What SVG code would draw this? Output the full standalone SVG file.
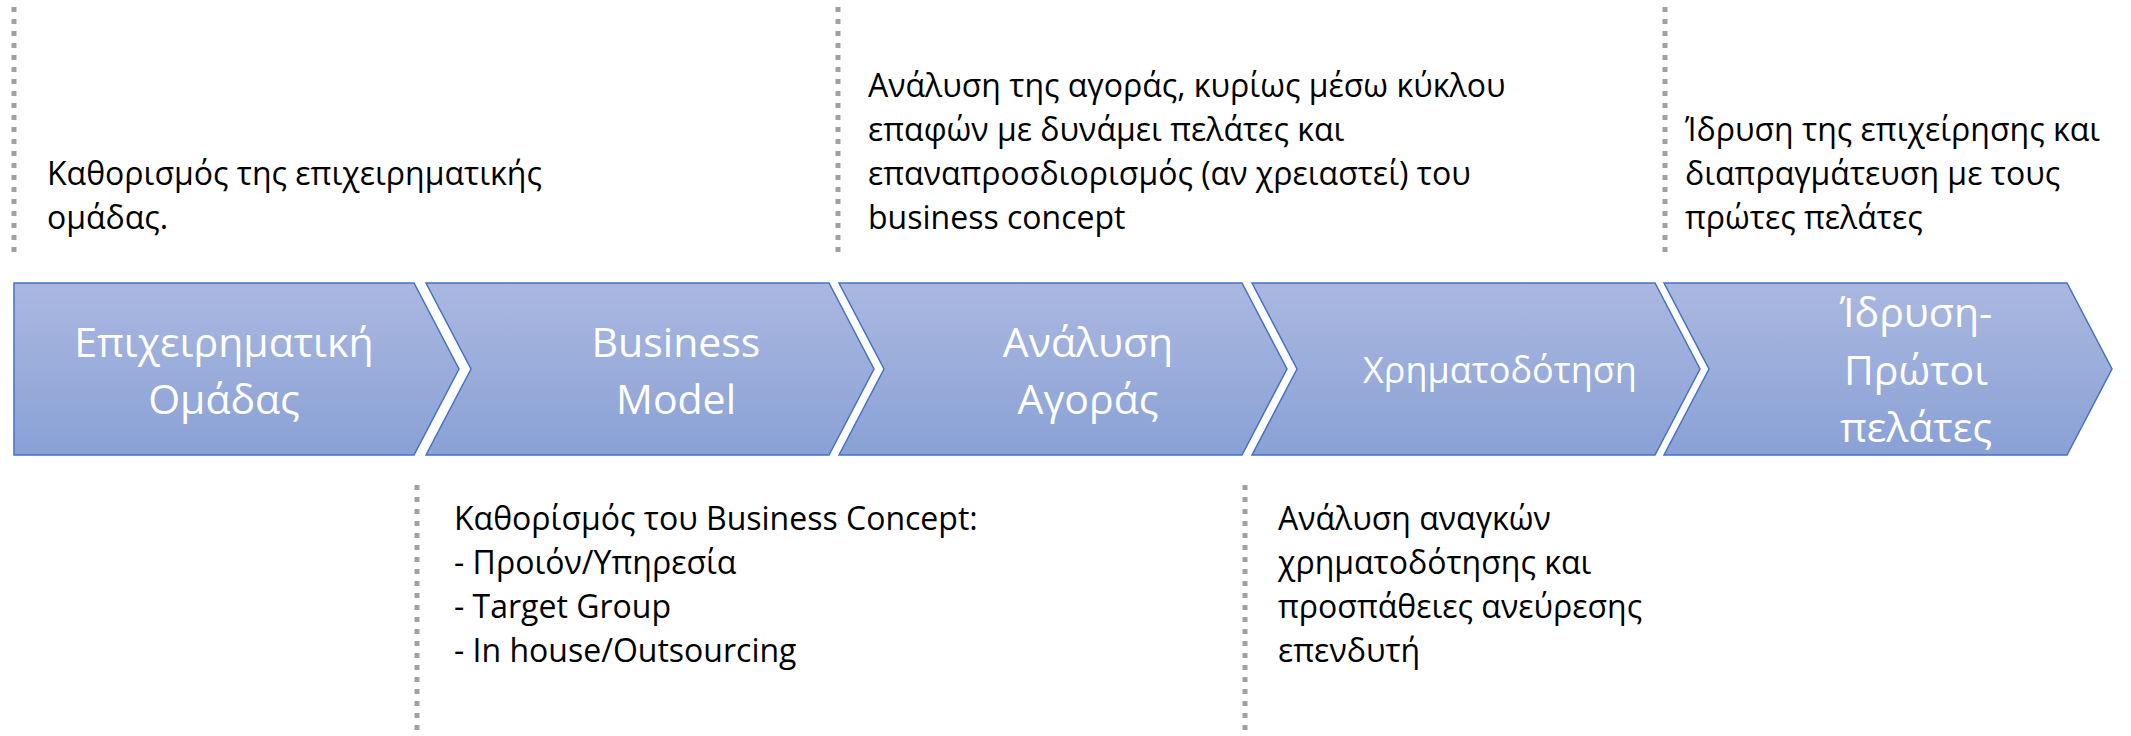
<svg xmlns="http://www.w3.org/2000/svg" width="2131" height="736" viewBox="0 0 2131 736">
  <defs>
    <linearGradient id="chevFill" x1="0" y1="0" x2="0" y2="1">
      <stop offset="0" stop-color="#AAB8E0"/>
      <stop offset="1" stop-color="#8AA1D6"/>
    </linearGradient>
    <style>
      .chev { fill: url(#chevFill); stroke: #4472C4; stroke-width: 1.5; stroke-linejoin: miter; }
      .lbl { font-family: "Open Sans", "Noto Sans", "DejaVu Sans", sans-serif; font-size: 41px; fill: #FFFFFF; text-anchor: middle; }
      .lbl-sm { font-size: 36px; }
      .note { font-family: "Open Sans", "Noto Sans", "DejaVu Sans", sans-serif; font-size: 32px; fill: #000000; }
      .dots { stroke: #A0A0A0; stroke-width: 5; stroke-dasharray: 5 7; fill: none; }
    </style>
  </defs>
  <rect width="2131" height="736" fill="#FFFFFF"/>

  <g id="separators">
    <line class="dots" x1="14" y1="7" x2="14" y2="256"/>
    <line class="dots" x1="838" y1="7" x2="838" y2="256"/>
    <line class="dots" x1="1665" y1="7" x2="1665" y2="256"/>
    <line class="dots" x1="417" y1="485" x2="417" y2="736"/>
    <line class="dots" x1="1245" y1="485" x2="1245" y2="736"/>
  </g>

  <g id="connectors"></g>

  <g id="step1">
    <path class="chev" d="M14,283 H414 L459,369 L414,455 H14 Z"/>
    <text class="lbl" x="224"><tspan x="224" y="357">Επιχειρηματική</tspan><tspan x="224" y="414">Ομάδας</tspan></text>
  </g>
  <g id="step2">
    <path class="chev" d="M426,283 H829 L874,369 L829,455 H426 L471,369 Z"/>
    <text class="lbl"><tspan x="676" y="357">Business</tspan><tspan x="676" y="414">Model</tspan></text>
  </g>
  <g id="step3">
    <path class="chev" d="M839,283 H1242 L1287,369 L1242,455 H839 L884,369 Z"/>
    <text class="lbl"><tspan x="1088" y="357">Ανάλυση</tspan><tspan x="1088" y="414">Αγοράς</tspan></text>
  </g>
  <g id="step4">
    <path class="chev" d="M1252,283 H1655 L1700,369 L1655,455 H1252 L1297,369 Z"/>
    <text class="lbl lbl-sm" x="1500" y="383">Χρηματοδότηση</text>
  </g>
  <g id="step5">
    <path class="chev" d="M1664,283 H2067 L2112,369 L2067,455 H1664 L1709,369 Z"/>
    <text class="lbl"><tspan x="1916" y="327">Ίδρυση-</tspan><tspan x="1916" y="385">Πρώτοι</tspan><tspan x="1916" y="442">πελάτες</tspan></text>
  </g>

  <g id="note-team">
    <text class="note"><tspan x="47" y="185">Καθορισμός της επιχειρηματικής</tspan><tspan x="47" y="229">ομάδας.</tspan></text>
  </g>
  <g id="note-market">
    <text class="note"><tspan x="868" y="97">Ανάλυση της αγοράς, κυρίως μέσω κύκλου</tspan><tspan x="868" y="141">επαφών με δυνάμει πελάτες και</tspan><tspan x="868" y="185">επαναπροσδιορισμός (αν χρειαστεί) του</tspan><tspan x="868" y="229">business concept</tspan></text>
  </g>
  <g id="note-founding">
    <text class="note"><tspan x="1685" y="141">Ίδρυση της επιχείρησης και</tspan><tspan x="1685" y="185">διαπραγμάτευση με τους</tspan><tspan x="1685" y="229">πρώτες πελάτες</tspan></text>
  </g>
  <g id="note-business">
    <text class="note"><tspan x="454" y="530">Καθορίσμός του Business Concept:</tspan><tspan x="454" y="574">- Προιόν/Υπηρεσία</tspan><tspan x="454" y="618">- Target Group</tspan><tspan x="454" y="662">- In house/Outsourcing</tspan></text>
  </g>
  <g id="note-funding">
    <text class="note"><tspan x="1278" y="530">Ανάλυση αναγκών</tspan><tspan x="1278" y="574">χρηματοδότησης και</tspan><tspan x="1278" y="618">προσπάθειες ανεύρεσης</tspan><tspan x="1278" y="662">επενδυτή</tspan></text>
  </g>
</svg>
